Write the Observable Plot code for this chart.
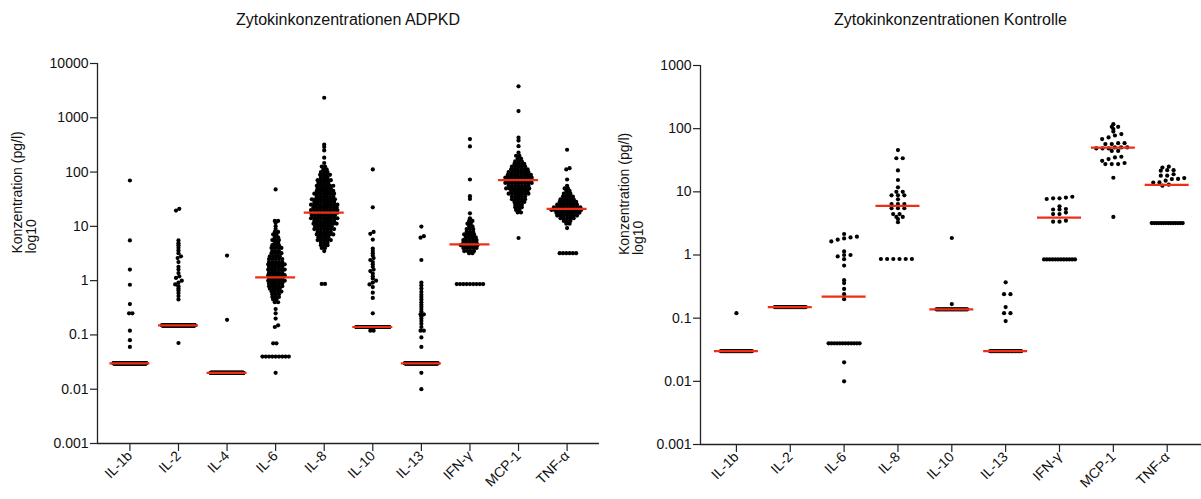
<!DOCTYPE html>
<html><head><meta charset="utf-8">
<script src="https://cdn.jsdelivr.net/npm/d3@7"></script>
<script src="https://cdn.jsdelivr.net/npm/@observablehq/plot@0.6"></script>
<style>
body{margin:0;background:#fff;font-family:"Liberation Sans",Arial,sans-serif;}
#wrap{position:relative;width:1201px;height:499px;overflow:hidden;background:#fff}
.panel{position:absolute;top:0;height:499px}
.title{position:absolute;top:0;height:40px;line-height:40px;text-align:center;font-size:16px;color:#111;white-space:nowrap}
.chart{position:absolute;top:40px;left:0}
</style></head><body>
<div id="wrap">
  <div class="panel" id="left" style="left:0;width:600px"></div>
  <div class="panel" id="right" style="left:600px;width:601px"></div>
</div>
<script>
// ---------- data (pg/l), [value, number of samples] ----------
const namesADPKD = ["IL-1b","IL-2","IL-4","IL-6","IL-8","IL-10","IL-13","IFN-γ","MCP-1","TNF-α"];
const namesKontrolle = ["IL-1b","IL-2","IL-6","IL-8","IL-10","IL-13","IFN-γ","MCP-1","TNF-α"];
const medianADPKD = [0.03, 0.15, 0.02, 1.15, 17.9, 0.14, 0.03, 4.66, 71, 21];
const medianKontrolle = [0.03, 0.15, 0.22, 6.0, 0.138, 0.03, 3.9, 50, 12.9];
const yTickValues = [0.001, 0.01, 0.1, 1, 10, 100, 1000, 10000];

const adpkd_IL1b = [[70,1],[5.5,1],[1.6,1],[0.84,1],[0.37,1],[0.25,2],[0.12,1],[0.08,1],[0.06,1],[0.03,160]];
const adpkd_IL2 = [[21,1],[19.5,1],[5.5,1],[4.9,1],[4.5,1],[4.05,1],[3.6,1],[3.2,1],[2.8,1],[2.6,1],[2.2,1],[1.8,1],[1.6,1],[1.38,1],[1.2,1],[1.12,1],[1.0,1],[0.92,1],[0.85,1],[0.79,1],[0.72,1],[0.66,1],[0.59,1],[0.52,1],[0.45,1],[0.15,150],[0.071,1]];
const adpkd_IL4 = [[2.9,1],[0.19,1],[0.02,170]];
const adpkd_IL6 = [[48,1],[12.6,2],[11.5,1],[10,1],[8.9,1],[7.9,2],[7.1,2],[6.3,2],[5.6,3],[5.0,2],[4.5,3],[4.0,4],[3.5,3],[3.2,4],[2.8,4],[2.5,5],[2.2,5],[2.0,6],[1.8,5],[1.6,6],[1.4,5],[1.26,6],[1.12,5],[1.0,6],[0.89,5],[0.79,5],[0.71,4],[0.63,4],[0.56,3],[0.5,3],[0.45,2],[0.4,2],[0.3,1],[0.25,1],[0.2,1],[0.15,1],[0.14,1],[0.07,2],[0.04,9],[0.02,1]];
const adpkd_IL8 = [[2340,1],[320,1],[290,1],[250,1],[184,1],[147,1],[126,2],[112,2],[100,3],[89,4],[79,3],[71,5],[63,4],[56,6],[50,5],[45,6],[40,7],[35.5,6],[31.6,8],[28.2,7],[25.1,9],[22.4,8],[20,9],[17.8,9],[15.8,8],[14.1,9],[12.6,7],[11.2,8],[10,6],[8.9,7],[7.9,5],[7.1,6],[6.3,4],[5.6,5],[5.0,3],[4.5,3],[4.0,2],[3.5,1],[0.87,2]];
const adpkd_IL10 = [[112,1],[22.4,1],[7.9,1],[7.3,1],[5.7,1],[3.9,1],[3.5,1],[3.2,1],[2.9,1],[2.6,1],[2.4,1],[2.2,1],[2.0,1],[1.8,1],[1.6,1],[1.5,1],[1.35,1],[1.2,1],[1.1,1],[1.0,1],[0.92,1],[0.85,1],[0.76,1],[0.6,1],[0.48,1],[0.25,1],[0.14,140],[0.12,2]];
const adpkd_IL13 = [[9.9,1],[6.6,1],[6.2,1],[2.4,1],[0.92,1],[0.82,1],[0.72,1],[0.62,1],[0.55,1],[0.5,1],[0.45,1],[0.4,1],[0.36,1],[0.33,1],[0.3,1],[0.27,1],[0.24,2],[0.22,1],[0.2,1],[0.18,1],[0.16,1],[0.14,1],[0.12,2],[0.09,1],[0.06,1],[0.03,130],[0.02,1],[0.01,1]];
const adpkd_IFNg = [[405,1],[297,1],[73,1],[36,1],[32,1],[17.4,1],[14.1,1],[12.6,2],[11.2,2],[10,2],[8.9,3],[7.9,3],[7.1,4],[6.3,4],[5.6,5],[5.0,5],[4.5,6],[4.0,5],[3.5,4],[3.2,2],[0.865,9]];
const adpkd_MCP1 = [[3800,1],[1330,1],[430,1],[380,1],[300,1],[228,1],[200,2],[178,2],[158,3],[141,4],[126,5],[112,6],[100,7],[89,8],[79,9],[71,8],[63,9],[56,7],[50,8],[45,6],[40,7],[35.5,5],[31.6,5],[28.2,4],[25.1,3],[22.4,3],[20,2],[18,2],[6.1,1]];
const adpkd_TNFa = [[258,1],[118,1],[112,1],[73,1],[56,1],[50,2],[45,2],[40,3],[35.5,4],[31.6,5],[28.2,6],[25.1,7],[22.4,9],[20,10],[17.8,8],[15.8,7],[14.1,5],[12.6,3],[11.2,2],[9.3,1],[3.2,6]];

const ktrl_IL1b = [[0.12,1],[0.03,29]];
const ktrl_IL2 = [[0.15,30]];
const ktrl_IL6 = [[2.15,1],[1.95,1],[1.9,1],[1.83,1],[1.75,1],[1.64,1],[1.14,1],[1.0,2],[0.95,1],[0.86,1],[0.68,1],[0.4,1],[0.36,1],[0.29,1],[0.24,1],[0.2,1],[0.04,12],[0.02,1],[0.01,1]];
const ktrl_IL8 = [[45.8,1],[34,2],[21.8,1],[15.4,1],[11.8,1],[10,2],[8.8,3],[7.6,1],[6.4,3],[5.5,3],[4.45,2],[4.0,2],[3.7,1],[3.3,1],[0.865,6]];
const ktrl_IL10 = [[1.86,1],[0.167,1],[0.138,28]];
const ktrl_IL13 = [[0.37,1],[0.24,2],[0.15,1],[0.12,2],[0.09,1],[0.03,23]];
const ktrl_IFNg = [[8.36,1],[8.1,1],[7.9,2],[7.7,1],[5.9,1],[5.35,1],[5.25,2],[4.7,1],[4.45,2],[3.5,1],[3.37,2],[0.85,12]];
const ktrl_MCP1 = [[118,1],[107,2],[98.6,1],[90,1],[82,1],[78,1],[72.6,1],[68.4,1],[59,2],[57,2],[50.4,3],[48.6,3],[44.5,2],[35.9,1],[35,1],[33,1],[31,1],[28.6,1],[27.5,3],[16.7,1],[4.0,1]];
const ktrl_TNFa = [[25,1],[24.3,1],[22,2],[21.6,1],[19,1],[18,2],[16.5,1],[16,1],[15.9,1],[15,1],[14.1,1],[14,1],[13,1],[12.5,1],[3.2,14]];

const seriesADPKD = [adpkd_IL1b, adpkd_IL2, adpkd_IL4, adpkd_IL6, adpkd_IL8, adpkd_IL10, adpkd_IL13, adpkd_IFNg, adpkd_MCP1, adpkd_TNFa];
const seriesKontrolle = [ktrl_IL1b, ktrl_IL2, ktrl_IL6, ktrl_IL8, ktrl_IL10, ktrl_IL13, ktrl_IFNg, ktrl_MCP1, ktrl_TNFa];

// ---------- scatter (column) layout, Prism-like ----------
function swarm(series, yPix, stepPx, D, Wmax, thr, maxSpan) {
  const pts = [];
  series.forEach((arr, i) => {
    const vals = [];
    for (const [v, c] of arr) for (let k = 0; k < c; k++) vals.push({v, py: yPix(v), i});
    vals.sort((a, b) => a.py - b.py);
    let group = [];
    let gi = 0;
    const flush = () => {
      group.sort((a, b) => a.v - b.v);
      const n = group.length;
      const s = n > 1 ? Math.min(D, Wmax / (n - 1)) : 0;
      // alternate a half-step shift on even-sized rows to roughen the swarm edges
      const shift = (n % 2 === 0 && n > 1 && n < 12) ? ((gi % 2) ? 0.5 : -0.5) * s * 0.5 : 0;
      group.forEach((p, k) => { p.x = i + ((k - (n - 1) / 2) * s + shift) / stepPx; pts.push(p); });
      group = [];
      gi++;
    };
    for (const p of vals) {
      if (group.length && (p.py - group[group.length - 1].py >= thr || p.py - group[0].py > maxSpan)) flush();
      group.push(p);
    }
    if (group.length) flush();
  });
  return pts;
}

function panel(el, cfg) {
  const {width, height, mt, mb, ml, mr, xmin, xmax, names, series, medians, D, Wmax, halfLine, title, labelDx} = cfg;
  const ydom = cfg.ydomain;
  const yS = d3.scaleLog().domain(ydom).range([height - mb, mt]);
  const stepPx = (width - ml - mr) / (xmax - xmin);
  const pts = swarm(series, yS, stepPx, D, Wmax, 2, 5);
  const med = medians.map((m, i) => ({m, a: i - halfLine / stepPx, b: i + halfLine / stepPx}));
  const chart = Plot.plot({
    width, height, marginTop: mt, marginBottom: mb, marginLeft: ml, marginRight: mr,
    x: {type: "linear", domain: [xmin, xmax]},
    y: {type: "log", domain: ydom},
    style: {fontFamily: "'Liberation Sans', Arial, sans-serif", fontSize: "14px", color: "#111", background: "transparent"},
    marks: [
      Plot.axisY(cfg.yticks, {tickFormat: d => String(d), tickSize: 7, tickPadding: 2, stroke: "#222", strokeWidth: 1.2}),
      Plot.axisX(d3.range(names.length), {tickFormat: i => names[i], tickRotate: -45, tickSize: 8, tickPadding: 2, stroke: "#222", strokeWidth: 1.2}),
      Plot.ruleY([ydom[0]], {stroke: "#222", strokeWidth: 1.3}),
      Plot.ruleX([xmin], {stroke: "#222", strokeWidth: 1.3}),
      Plot.dot(pts, {x: "x", y: "v", r: 2.1, fill: "#000"}),
      Plot.ruleY(med, {y: "m", x1: "a", x2: "b", stroke: "#ee2f16", strokeWidth: 2.2}),
      Plot.text(["Konzentration (pg/l)\nlog10"], {text: d => d, frameAnchor: "left", rotate: -90, dx: labelDx, lineHeight: 1.0, fontSize: 14, fill: "#111"})
    ]
  });
  chart.classList.add("chart");
  const t = document.createElement("div");
  t.className = "title";
  t.style.left = ml + "px";
  t.style.width = (width - ml - mr) + "px";
  t.textContent = title;
  el.appendChild(t);
  el.appendChild(chart);
}

panel(document.getElementById("left"), {
  width: 600, height: 459, mt: 23, mb: 56, ml: 97, mr: 1, xmin: -0.667, xmax: 9.667,
  ydomain: [0.001, 10000], yticks: yTickValues,
  names: namesADPKD, series: seriesADPKD, medians: medianADPKD,
  D: 3.3, Wmax: 33, halfLine: 20, title: "Zytokinkonzentrationen ADPKD", labelDx: -73
});
panel(document.getElementById("right"), {
  width: 601, height: 459, mt: 25, mb: 55, ml: 100, mr: 0, xmin: -0.667, xmax: 8.637,
  ydomain: [0.001, 1000], yticks: yTickValues.slice(0, 7),
  names: namesKontrolle, series: seriesKontrolle, medians: medianKontrolle,
  D: 6.4, Wmax: 31, halfLine: 22, title: "Zytokinkonzentrationen Kontrolle", labelDx: -69
});
</script>
</body></html>
